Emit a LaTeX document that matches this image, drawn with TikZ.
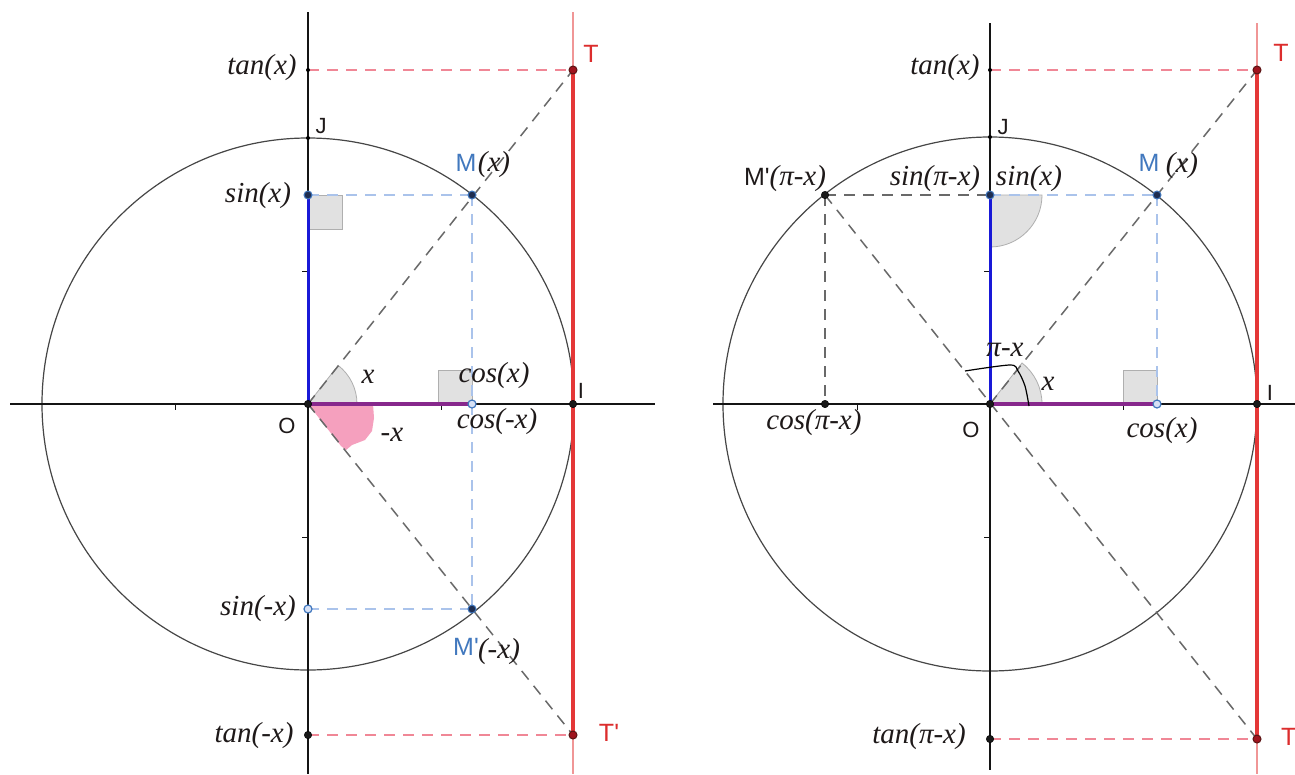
\documentclass[tikz,border=0pt]{standalone}
\usepackage{fontspec}
\setmainfont{Liberation Serif}
\newfontfamily\sanslab{Liberation Sans}
\definecolor{axisc}{RGB}{20,20,20}
\definecolor{circc}{RGB}{70,70,70}
\definecolor{gdash}{RGB}{105,105,105}
\definecolor{bdash}{RGB}{170,195,235}
\definecolor{rdash}{RGB}{240,135,150}
\definecolor{redthick}{RGB}{228,55,55}
\definecolor{redthin}{RGB}{240,150,150}
\definecolor{bluethick}{RGB}{25,25,215}
\definecolor{purp}{RGB}{135,40,140}
\definecolor{angfill}{RGB}{225,225,225}
\definecolor{angdraw}{RGB}{175,175,175}
\definecolor{pinkc}{RGB}{245,160,190}
\definecolor{mblue}{RGB}{65,120,190}
\definecolor{mfill}{RGB}{30,45,80}
\definecolor{rfill}{RGB}{160,20,30}
\definecolor{rdraw}{RGB}{90,20,20}
\definecolor{wfill}{RGB}{215,225,245}
\definecolor{tred}{RGB}{220,45,45}
\definecolor{labc}{RGB}{30,25,25}
\tikzset{
  axisl/.style={draw=axisc, line width=1.3pt},
  circl/.style={draw=circc, line width=1.2pt},
  gd/.style={draw=gdash, line width=1.5pt, dash pattern=on 11pt off 8pt},
  bd/.style={draw=bdash, line width=1.5pt, dash pattern=on 11pt off 8pt},
  rd/.style={draw=rdash, line width=1.5pt, dash pattern=on 11pt off 8pt},
  redthinl/.style={draw=redthin, line width=1.2pt},
  redthickl/.style={draw=redthick, line width=4pt},
  bluel/.style={draw=bluethick, line width=3pt},
  purpl/.style={draw=purp, line width=3.2pt},
  angsec/.style={fill=angfill, draw=angdraw, line width=0.8pt},
  tickl/.style={draw=axisc, line width=1pt},
  ptb/.style={circle, inner sep=0pt, minimum size=7.5pt, fill=black!90, draw=black},
  ptsm/.style={circle, inner sep=0pt, minimum size=4pt, fill=black},
  ptm/.style={circle, inner sep=0pt, minimum size=8pt, fill=mfill, draw=mblue, line width=1pt},
  ptw/.style={circle, inner sep=0pt, minimum size=8pt, fill=wfill, draw=mblue, line width=1.2pt},
  ptr/.style={circle, inner sep=0pt, minimum size=8pt, fill=rfill, draw=rdraw, line width=1pt},
  lab/.style={font=\fontsize{29}{30}\selectfont\itshape, text=labc, inner sep=0pt},
  slab/.style={font=\sanslab\fontsize{22}{24}\selectfont, text=labc, inner sep=0pt},
  mlab/.style={font=\sanslab\fontsize{25}{27}\selectfont, text=mblue, inner sep=0pt},
  tlab/.style={font=\sanslab\fontsize{25}{27}\selectfont, text=tred, inner sep=0pt},
}
\begin{document}
\begin{tikzpicture}[x=1pt,y=-1pt]
\useasboundingbox[fill=white] (0,0) rectangle (1295,774);
% ================= LEFT =================
\coordinate (lO) at (308,404);
\coordinate (lI) at (573,404);
\coordinate (lJ) at (308,138);
\coordinate (lM) at (472,195);
\coordinate (lMp) at (472,609);
\coordinate (lT) at (573,70);
\coordinate (lTp) at (573,735);
\coordinate (lS) at (308,195);
\coordinate (lSp) at (308,609);
\coordinate (lC) at (472,404);
\coordinate (ltan) at (308,70);
\coordinate (ltanm) at (308,735);
\coordinate (lxa) at (10,404);
\coordinate (lxb) at (655,404);
\coordinate (lya) at (308,12);
\coordinate (lyb) at (308,774);
\coordinate (lra) at (573,12);
\coordinate (lrb) at (573,774);
% fills
\fill[pinkc] (308,404) -- (373,404) -- (374,418) -- (372,431) -- (365,440) -- (352,445) -- (346,450) -- (341,446) -- cycle;
\path[angsec] (lO) -- ++(0:49) arc[start angle=0, end angle=-52, radius=49] -- cycle;
\path[angsec] (308,195) rectangle (342,229);
\path[angsec] (438,370) rectangle (472,404);
% circle and axes
\draw[circl] (lO) circle[radius=266];
\draw[axisl] (lxa) -- (lxb);
\draw[axisl] (lya) -- (lyb);
\draw[tickl] (175,404) -- (175,410);
\draw[tickl] (441,404) -- (441,410);
\draw[tickl] (302,271) -- (308,271);
\draw[tickl] (302,537) -- (308,537);
\draw[redthinl] (lra) -- (lrb);
% dashed
\draw[gd] (lO) -- (lT);
\draw[gd] (lO) -- (lTp);
\draw[bd] (lS) -- (lM);
\draw[bd] (lM) -- (lMp);
\draw[bd] (lSp) -- (lMp);
\draw[rd] (ltan) -- (lT);
\draw[rd] (ltanm) -- (lTp);
% thick
\draw[redthickl] (lT) -- (lTp);
\draw[bluel] (lO) -- (lS);
\draw[purpl] (lO) -- (lC);
% points
\node[ptsm] (lJd) at (lJ) {};
\node[ptsm] (ltand) at (ltan) {};
\node[ptb] (lOd) at (lO) {};
\node[ptb] (lId) at (lI) {};
\node[ptb] (ltanmd) at (ltanm) {};
\node[ptm] (lMd) at (lM) {};
\node[ptm] (lMpd) at (lMp) {};
\node[ptm] (lSd) at (lS) {};
\node[ptw] (lSpd) at (lSp) {};
\node[ptw] (lCd) at (lC) {};
\node[ptr] (lTd) at (lT) {};
\node[ptr] (lTpd) at (lTp) {};
% labels
\node[lab] (l1) at (262,68) {tan(x)};
\node[slab] (l2) at (321,126) {J};
\node[lab] (l3) at (258,196) {sin(x)};
\node[mlab] (l4) at (466,163) {M};
\node[lab] (l5) at (494,165) {(x)};
\node[tlab] (l6) at (591,54) {T};
\node[lab] (l7) at (368,377) {x};
\node[lab] (l8) at (494,376) {cos(x)};
\node[slab] (l9) at (287,426) {O};
\node[lab] (l10) at (392,435) {-x};
\node[lab] (l11) at (497,422) {cos(-x)};
\node[slab] (l12) at (581,391) {I};
\node[lab] (l13) at (258,609) {sin(-x)};
\node[mlab] (l14) at (466,647) {M'};
\node[lab] (l15) at (499,652) {(-x)};
\node[lab] (l16) at (254,736) {tan(-x)};
\node[tlab] (l17) at (609,733) {T'};
% ================= RIGHT =================
\coordinate (rO) at (990,404);
\coordinate (rI) at (1257,404);
\coordinate (rJ) at (990,137);
\coordinate (rM) at (1157,195);
\coordinate (rMp) at (825,195);
\coordinate (rT) at (1257,70);
\coordinate (rTb) at (1257,739);
\coordinate (rS) at (990,195);
\coordinate (rC) at (1157,404);
\coordinate (rCp) at (825,404);
\coordinate (rtan) at (990,70);
\coordinate (rtanb) at (990,739);
\coordinate (rxa) at (713,404);
\coordinate (rxb) at (1295,404);
\coordinate (rya) at (990,23);
\coordinate (ryb) at (990,770);
\coordinate (rra) at (1257,23);
\coordinate (rrb) at (1257,774);
% fills
\path[angsec] (rO) -- ++(0:52) arc[start angle=0, end angle=-52, radius=52] -- cycle;
\path[angsec] (rS) -- ++(0:52) arc[start angle=0, end angle=90, radius=52] -- cycle;
\path[angsec] (1123,370) rectangle (1157,404);
% circle and axes
\draw[circl] (rO) circle[radius=267];
\draw[axisl] (rxa) -- (rxb);
\draw[axisl] (rya) -- (ryb);
\draw[tickl] (857,404) -- (857,410);
\draw[tickl] (1123,404) -- (1123,410);
\draw[tickl] (984,271) -- (990,271);
\draw[tickl] (984,537) -- (990,537);
\draw[redthinl] (rra) -- (rrb);
% dashed
\draw[gd] (rO) -- (rT);
\draw[gd] (rMp) -- (rTb);
\draw[gd] (rMp) -- (rS);
\draw[gd] (rMp) -- (rCp);
\draw[bd] (rS) -- (rM);
\draw[bd] (rM) -- (rC);
\draw[rd] (rtan) -- (rT);
\draw[rd] (rtanb) -- (rTb);
% thick
\draw[redthickl] (rT) -- (rTb);
\draw[bluel] (rO) -- (rS);
\draw[purpl] (rO) -- (rC);
% angle pi-x
\draw[black, line width=1.2pt] plot[smooth] coordinates {(1029,406) (1025,386) (1018,371) (1010,365) (965,371)};
% points
\node[ptsm] (rJd) at (rJ) {};
\node[ptsm] (rtand) at (rtan) {};
\node[ptb] (rOd) at (rO) {};
\node[ptb] (rId) at (rI) {};
\node[ptb] (rtanbd) at (rtanb) {};
\node[ptb] (rMpd) at (rMp) {};
\node[ptb] (rCpd) at (rCp) {};
\node[ptm] (rMd) at (rM) {};
\node[ptm] (rSd) at (rS) {};
\node[ptw] (rCd) at (rC) {};
\node[ptr] (rTd) at (rT) {};
\node[ptr] (rTbd) at (rTb) {};
% labels
\node[lab] (r1) at (945,68) {tan(x)};
\node[slab] (r2) at (1003,127) {J};
\node[inner sep=0pt, text=labc] (r3) at (785,179) {{\sanslab\fontsize{25}{27}\selectfont M'}{\fontsize{29}{30}\selectfont\itshape(π-x)}};
\node[lab] (r4) at (935,179) {sin(π-x)};
\node[lab] (r5) at (1029,179) {sin(x)};
\node[mlab] (r6) at (1149,163) {M};
\node[lab] (r7) at (1182,166) {(x)};
\node[tlab] (r8) at (1281,53) {T};
\node[lab] (r9) at (1005,350) {π-x};
\node[lab] (r10) at (1048,384) {x};
\node[slab] (r11) at (971,430) {O};
\node[lab] (r12) at (1162,431) {cos(x)};
\node[slab] (r13) at (1270,393) {I};
\node[lab] (r14) at (814,423) {cos(π-x)};
\node[lab] (r15) at (919,737) {tan(π-x)};
\node[tlab, anchor=west] (r16) at (1281,737) {T};
\end{tikzpicture}
\end{document}
